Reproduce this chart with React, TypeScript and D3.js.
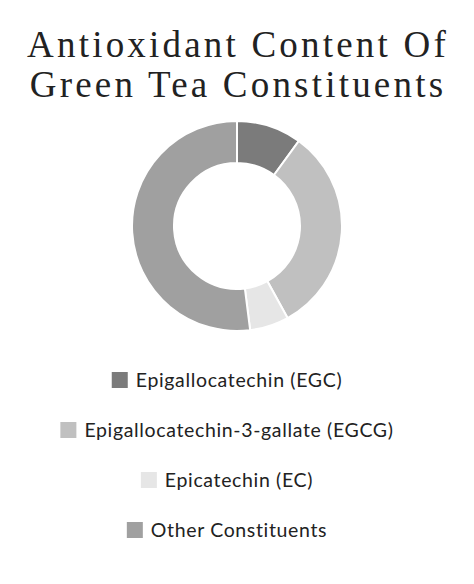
import * as React from 'react';
import * as d3 from 'd3';

const categories = ['Epigallocatechin (EGC)', 'Epigallocatechin-3-gallate (EGCG)', 'Epicatechin (EC)', 'Other Constituents'];
const values = [10, 32, 6, 52];
const colors = ['#7b7b7b', '#c0c0c0', '#e6e6e6', '#a0a0a0'];
const titleLines = ['Antioxidant Content Of', 'Green Tea Constituents'];

const width = 474;
const height = 584;
const cx = 237;
const cy = 226;
const outerR = 105;
const innerR = 63;
const legendCx = 227;

export default function App() {
  const pie = d3.pie<number>().sort(null).value(d => d);
  const arcs = pie(values);
  const arc = d3.arc<d3.PieArcDatum<number>>().innerRadius(innerR).outerRadius(outerR);

  const legendY = d3.scalePoint<string>().domain(categories).range([380, 530]);

  return (
    <svg width={width} height={height} style={{position: 'absolute', left: 0, top: 0, background: '#fff'}}>
      <g fontFamily="'Liberation Serif', serif" fontSize={37} fill="#222" textAnchor="middle" letterSpacing={3.2}>
        {titleLines.map((t, i) => (
          <text key={t} x={width / 2 + 1} y={57 + i * 40}>{t}</text>
        ))}
      </g>
      <g transform={`translate(${cx},${cy})`}>
        {arcs.map((a, i) => (
          <path key={i} d={arc(a) || ''} fill={colors[i]} stroke="#fff" strokeWidth={2} />
        ))}
      </g>
      <g fontFamily="Lato, sans-serif" fontSize={19.5} fill="#222" letterSpacing={0.65}>
        {categories.map((c, i) => (
          <LegendItem key={c} label={c} color={colors[i]} y={legendY(c) || 0} />
        ))}
      </g>
    </svg>
  );
}

function LegendItem({label, color, y}: {label: string, color: string, y: number}) {
  const ref = React.useRef<SVGGElement>(null);
  const [w, setW] = React.useState(0);
  React.useLayoutEffect(() => {
    const t = ref.current?.querySelector('text');
    if (t) setW(t.getComputedTextLength());
  }, [label]);
  const total = 16 + 8 + w;
  const x0 = legendCx - total / 2;
  return (
    <g ref={ref}>
      <rect x={x0} y={y - 8} width={16} height={16} fill={color} />
      <text x={x0 + 24} y={y} dy="0.35em">{label}</text>
    </g>
  );
}
